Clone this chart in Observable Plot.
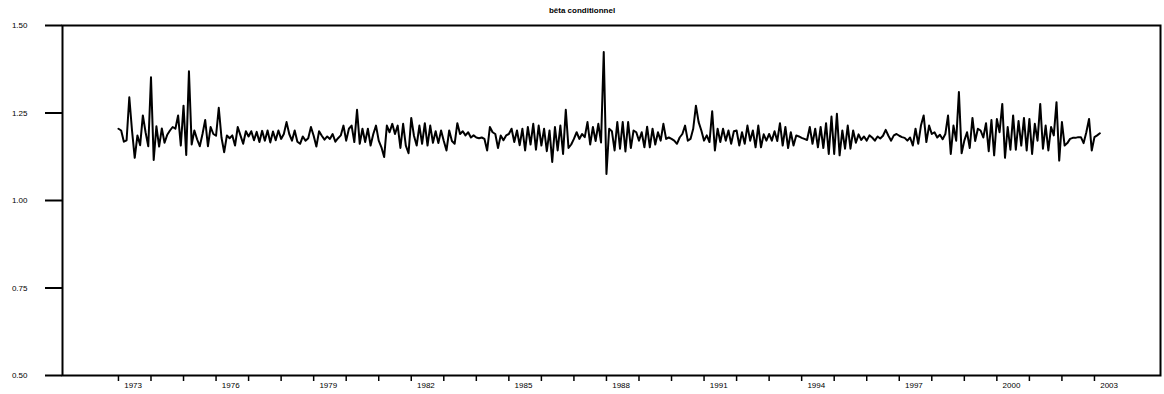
<!DOCTYPE html>
<html><head><meta charset="utf-8">
<script src="https://cdn.jsdelivr.net/npm/d3@7"></script>
<script src="https://cdn.jsdelivr.net/npm/@observablehq/plot@0.6"></script>
<style>
body{margin:0;background:#fff;font-family:"Liberation Sans",Arial,sans-serif;}
#title{height:20px;line-height:22px;text-align:center;font-weight:bold;font-size:8px;color:#000;}
</style></head><body>
<div id="title">bêta conditionnel</div>
<div id="chart"></div>
<script>
const startYear = 1973;
const beta1973 = [1.205,1.200,1.168,1.172,1.295,1.200,1.122,1.186,1.158,1.243,1.195,1.155];
const beta1974 = [1.352,1.116,1.212,1.154,1.206,1.165,1.188,1.200,1.210,1.205,1.243,1.157];
const beta1975 = [1.271,1.130,1.369,1.160,1.200,1.175,1.155,1.190,1.230,1.155,1.210,1.190];
const beta1976 = [1.185,1.265,1.180,1.138,1.186,1.178,1.186,1.157,1.210,1.186,1.162,1.198];
const beta1977 = [1.183,1.198,1.172,1.196,1.167,1.199,1.171,1.200,1.166,1.197,1.172,1.200];
const beta1978 = [1.176,1.190,1.224,1.190,1.171,1.200,1.168,1.162,1.183,1.171,1.178,1.210];
const beta1979 = [1.185,1.154,1.198,1.185,1.174,1.183,1.176,1.190,1.168,1.178,1.186,1.214];
const beta1980 = [1.171,1.205,1.214,1.167,1.259,1.162,1.205,1.167,1.205,1.157,1.190,1.214];
const beta1981 = [1.171,1.152,1.124,1.214,1.195,1.219,1.190,1.214,1.150,1.219,1.157,1.135];
const beta1982 = [1.236,1.185,1.157,1.214,1.162,1.221,1.157,1.214,1.165,1.198,1.164,1.200];
const beta1983 = [1.170,1.143,1.200,1.170,1.162,1.221,1.190,1.198,1.186,1.195,1.180,1.186];
const beta1984 = [1.180,1.178,1.180,1.176,1.143,1.210,1.195,1.190,1.150,1.186,1.172,1.186];
const beta1985 = [1.190,1.205,1.167,1.200,1.158,1.205,1.143,1.210,1.160,1.219,1.145,1.214];
const beta1986 = [1.157,1.205,1.141,1.200,1.110,1.210,1.143,1.214,1.133,1.259,1.150,1.160];
const beta1987 = [1.176,1.195,1.176,1.190,1.181,1.224,1.160,1.210,1.170,1.219,1.166,1.424];
const beta1988 = [1.076,1.205,1.198,1.143,1.224,1.148,1.224,1.140,1.224,1.150,1.200,1.195];
const beta1989 = [1.171,1.195,1.152,1.211,1.152,1.205,1.160,1.195,1.171,1.219,1.176,1.180];
const beta1990 = [1.176,1.171,1.162,1.180,1.190,1.214,1.171,1.176,1.205,1.271,1.224,1.200];
const beta1991 = [1.171,1.186,1.167,1.255,1.143,1.205,1.167,1.205,1.171,1.200,1.162,1.198];
const beta1992 = [1.200,1.157,1.195,1.162,1.214,1.171,1.200,1.152,1.214,1.152,1.189,1.171];
const beta1993 = [1.190,1.171,1.198,1.170,1.221,1.157,1.210,1.150,1.195,1.157,1.186,1.183];
const beta1994 = [1.179,1.176,1.173,1.210,1.162,1.205,1.152,1.210,1.150,1.221,1.133,1.240];
const beta1995 = [1.133,1.248,1.129,1.200,1.148,1.214,1.148,1.200,1.165,1.189,1.173,1.183];
const beta1996 = [1.171,1.186,1.180,1.171,1.183,1.177,1.185,1.202,1.185,1.171,1.186,1.190];
const beta1997 = [1.185,1.181,1.179,1.171,1.180,1.157,1.205,1.162,1.214,1.243,1.167,1.214];
const beta1998 = [1.190,1.195,1.180,1.188,1.175,1.190,1.243,1.133,1.214,1.171,1.310,1.135];
const beta1999 = [1.171,1.195,1.150,1.236,1.170,1.205,1.200,1.180,1.221,1.141,1.230,1.129];
const beta2000 = [1.233,1.195,1.276,1.122,1.210,1.145,1.243,1.145,1.227,1.157,1.236,1.143];
const beta2001 = [1.233,1.133,1.219,1.171,1.276,1.148,1.214,1.143,1.210,1.186,1.281,1.114];
const beta2002 = [1.224,1.157,1.164,1.176,1.179,1.179,1.181,1.181,1.164,1.195,1.233,1.143];
const beta2003 = [1.181,1.186,1.192];

const betaValues = [].concat(beta1973,beta1974,beta1975,beta1976,beta1977,beta1978,beta1979,
  beta1980,beta1981,beta1982,beta1983,beta1984,beta1985,beta1986,beta1987,beta1988,beta1989,
  beta1990,beta1991,beta1992,beta1993,beta1994,beta1995,beta1996,beta1997,beta1998,beta1999,
  beta2000,beta2001,beta2002,beta2003);

const yTicks = [0.50, 0.75, 1.00, 1.25, 1.50];
const yearTicks = d3.range(1973, 2004);
const yearLabels = d3.range(1973, 2004, 3);
const labelOffset = 0.45;

const data = betaValues.map((v, i) => ({t: startYear + i / 12, v}));

const chart = Plot.plot({
  width: 1164,
  height: 374,
  marginTop: 5,
  marginBottom: 19,
  marginLeft: 62,
  marginRight: 4,
  style: {fontFamily: '"Liberation Sans", Arial, sans-serif', fontSize: "8px", color: "#000", background: "#fff"},
  x: {domain: [1971.28, 2005.03]},
  y: {domain: [0.5, 1.5]},
  marks: [
    Plot.frame({stroke: "#000", strokeWidth: 2}),
    Plot.axisY({ticks: yTicks, tickFormat: ".2f", tickSize: 17, tickPadding: 18, strokeWidth: 2, label: null}),
    Plot.axisX({ticks: yearTicks, tickSize: 6, tickFormat: () => "", strokeWidth: 1.5, label: null}),
    Plot.axisX({ticks: yearLabels.map(y => y + labelOffset), tickSize: 0, tickPadding: 7,
      tickFormat: d => String(Math.round(d - labelOffset)), label: null}),
    Plot.line(data, {x: "t", y: "v", stroke: "#000", strokeWidth: 2})
  ]
});
document.getElementById("chart").appendChild(chart);
</script>
</body></html>
